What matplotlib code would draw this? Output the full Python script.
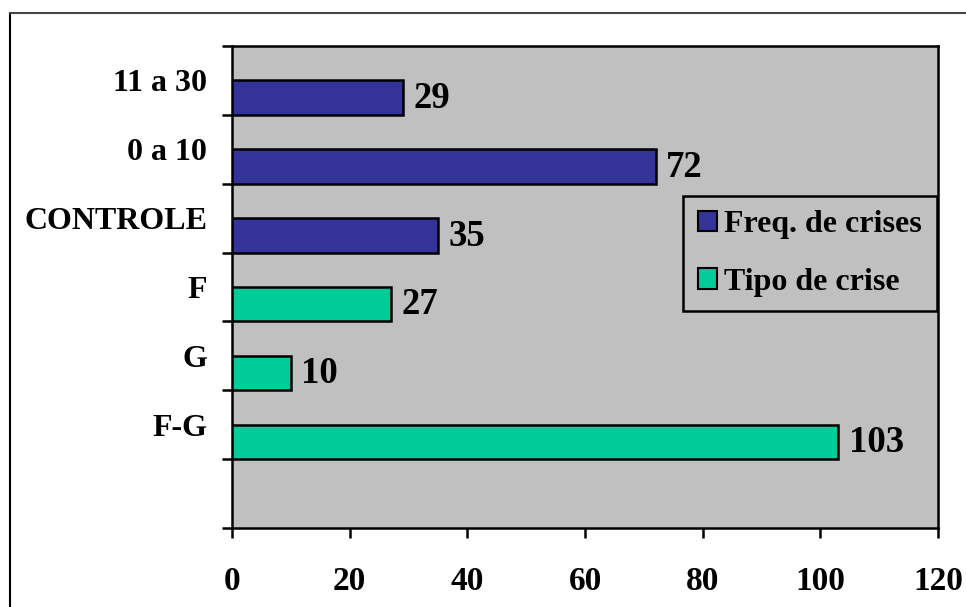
import matplotlib
matplotlib.use("Agg")
import matplotlib.pyplot as plt
from matplotlib.lines import Line2D
from matplotlib.patches import Patch

# Categorias (de cima para baixo) e valores
categorias = ['11 a 30', '0 a 10', 'CONTROLE', 'F', 'G', 'F-G']
valores = [29, 72, 35, 27, 10, 103]
series = ['Freq. de crises', 'Freq. de crises', 'Freq. de crises',
          'Tipo de crise', 'Tipo de crise', 'Tipo de crise']
cores = {'Freq. de crises': '#333399', 'Tipo de crise': '#00CC99'}
xticks = [0, 20, 40, 60, 80, 100, 120]

plt.rcParams['font.family'] = ['Liberation Serif', 'DejaVu Serif']
plt.rcParams['font.weight'] = 'bold'

fig = plt.figure(figsize=(9.66, 6.07), dpi=100)
ax = fig.add_axes([0.2402, 0.1301, 0.7308, 0.7941])
ax.set_facecolor('#C0C0C0')

n_slots = len(categorias) + 1  # uma faixa vazia no fim
ax.set_ylim(0, n_slots)
ax.set_xlim(0, 120)

for i, (cat, v, s) in enumerate(zip(categorias, valores, series)):
    topo = n_slots - i
    base = topo - 1
    ax.barh(base, v, height=0.5, align='edge', color=cores[s],
            edgecolor='black', linewidth=1.8, zorder=3)
    ax.text(v + 1.8, base + 0.24, str(v), va='center', ha='left',
            fontsize=26.5, fontweight='bold', zorder=4)

# ticks principais nas divisões, rótulos no meio de cada faixa
ax.set_yticks(range(n_slots + 1))
ax.set_yticklabels([])
ax.set_yticks([n_slots - i - 0.5 for i in range(len(categorias))], minor=True)
ax.set_yticklabels(categorias, minor=True, fontsize=23, fontweight='bold')
ax.tick_params(axis='y', which='major', direction='out', length=7, width=1.8)
ax.tick_params(axis='y', which='minor', length=0, pad=18)

ax.set_xticks(xticks)
ax.set_xticklabels([str(t) for t in xticks], fontsize=24, fontweight='bold')
ax.tick_params(axis='x', direction='out', length=7, width=1.8, pad=20)

for sp in ax.spines.values():
    sp.set_linewidth(1.8)

handles = [Patch(facecolor=cores[k], edgecolor='black', linewidth=1.5, label=k)
           for k in ['Freq. de crises', 'Tipo de crise']]
leg = ax.legend(handles=handles, loc='upper right', bbox_to_anchor=(0.998, 0.689),
                borderaxespad=0, frameon=True, fancybox=False,
                handlelength=0.62, handleheight=0.62, handletextpad=0.22,
                labelspacing=0.9, borderpad=0.45, prop={'weight': 'bold', 'size': 23})
leg.get_frame().set_facecolor('#C0C0C0')
leg.get_frame().set_edgecolor('black')
leg.get_frame().set_linewidth(1.8)
leg.get_frame().set_alpha(1)

# moldura da figura (esquerda e topo)
W, H = 966, 607
fig.add_artist(Line2D([9.5 / W, 9.5 / W], [0, 1 - 13 / H], color='black', lw=1.5))
fig.add_artist(Line2D([9.5 / W, 1], [1 - 13 / H, 1 - 13 / H], color='#444444', lw=1.5))

fig.savefig('out.png', dpi=100)
